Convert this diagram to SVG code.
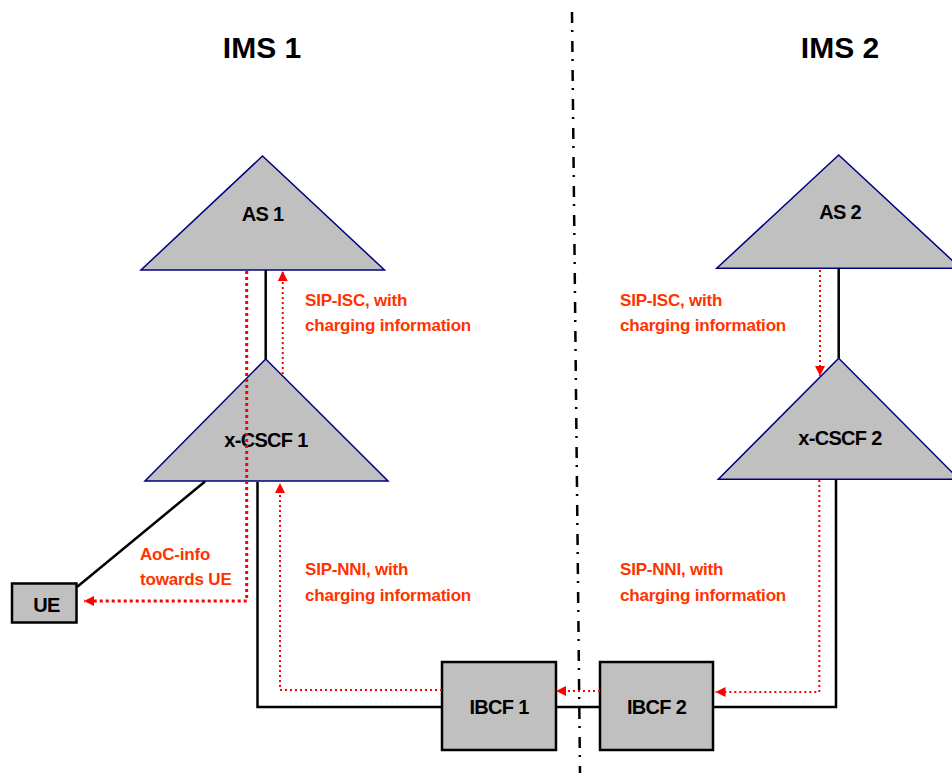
<svg xmlns="http://www.w3.org/2000/svg" width="952" height="773" viewBox="0 0 952 773">
<style>
  .tri { fill: #C0C0C0; stroke: #000080; stroke-width: 1.5; }
  .box { fill: #C0C0C0; stroke: #000000; stroke-width: 2.5; }
  .lbl { font-family: "Liberation Sans", Arial, sans-serif; font-weight: bold; font-size: 20px; letter-spacing: -0.7px; fill: #000; text-anchor: middle; }
  .title { font-family: "Liberation Sans", Arial, sans-serif; font-weight: bold; font-size: 30px; fill: #000; text-anchor: middle; }
  .red { font-family: "Liberation Sans", Arial, sans-serif; font-weight: bold; font-size: 17px; letter-spacing: -0.2px; fill: #FF3300; }
  .link { fill: none; stroke: #000; stroke-width: 2.5; }
  .msg { fill: none; stroke: #FF0000; stroke-width: 2; stroke-dasharray: 2 3; }
  .msg2 { fill: none; stroke: #FF0000; stroke-width: 3; stroke-dasharray: 3 3; }
  .divider { fill: none; stroke: #000; stroke-width: 2.5; stroke-dasharray: 11 7 2 9; }
</style>
<defs>
  <marker id="ah" markerUnits="userSpaceOnUse" markerWidth="11" markerHeight="11" refX="10" refY="5" orient="auto">
    <path d="M0,0 L10,5 L0,10 z" fill="#FF0000"/>
  </marker>
</defs>
<rect width="952" height="773" fill="#FFFFFF"/>

<g id="titles">
  <text class="title" x="262" y="58">IMS 1</text>
  <text class="title" x="840" y="58">IMS 2</text>
</g>

<line id="domain-border" class="divider" x1="572" y1="12" x2="580" y2="773"/>

<g id="as1">
  <polygon class="tri" points="262.5,156 141,270 384.5,270"/>
  <text class="lbl" x="262.5" y="221">AS 1</text>
</g>
<g id="xcscf1">
  <polygon class="tri" points="265.7,359 145,481 388,481"/>
  <text class="lbl" x="266" y="447">x-CSCF 1</text>
</g>
<g id="as2">
  <polygon class="tri" points="838.7,155 716.7,268.3 960.7,268.3"/>
  <text class="lbl" x="840" y="218.5">AS 2</text>
</g>
<g id="xcscf2">
  <polygon class="tri" points="838.7,358.3 718.3,479.3 959,479.3"/>
  <text class="lbl" x="840" y="445">x-CSCF 2</text>
</g>
<g id="ue">
  <rect class="box" x="12" y="583.5" width="64.5" height="39"/>
  <text class="lbl" x="46.5" y="611.5">UE</text>
</g>
<g id="ibcf1">
  <rect class="box" x="442" y="662" width="114" height="88"/>
  <text class="lbl" x="499" y="714">IBCF 1</text>
</g>
<g id="ibcf2">
  <rect class="box" x="600" y="662" width="113" height="88"/>
  <text class="lbl" x="656.5" y="714">IBCF 2</text>
</g>

<g id="connectors">
  <!-- black links -->
  <line class="link" x1="265.7" y1="270" x2="265.7" y2="359"/>
  <line class="link" x1="838.7" y1="268" x2="838.7" y2="358"/>
  <line class="link" x1="77" y1="587" x2="205" y2="481.5"/>
  <polyline class="link" points="257.5,482 257.5,707 442,707"/>
  <line class="link" x1="556" y1="707" x2="600" y2="707"/>
  <polyline class="link" points="713,707 836,707 836,480"/>
  <!-- red message flows -->
  <polyline class="msg2" points="246.7,271 246.7,601 84,601" marker-end="url(#ah)"/>
  <line class="msg" x1="282.7" y1="374" x2="282.7" y2="271" marker-end="url(#ah)"/>
  <line class="msg" x1="820" y1="270" x2="820" y2="376" marker-end="url(#ah)"/>
  <polyline class="msg" points="442,690 280,690 280,483" marker-end="url(#ah)"/>
  <line class="msg" x1="600" y1="691" x2="556" y2="691" marker-end="url(#ah)"/>
  <polyline class="msg" points="819.3,480 819.3,692 715.5,692" marker-end="url(#ah)"/>
  <!-- labels -->
  <text class="red" x="305" y="306">SIP-ISC, with</text>
  <text class="red" x="305" y="331">charging information</text>
  <text class="red" x="620" y="306">SIP-ISC, with</text>
  <text class="red" x="620" y="331">charging information</text>
  <text class="red" x="140" y="560">AoC-info</text>
  <text class="red" x="140" y="585">towards UE</text>
  <text class="red" x="305" y="575">SIP-NNI, with</text>
  <text class="red" x="305" y="601">charging information</text>
  <text class="red" x="620" y="575">SIP-NNI, with</text>
  <text class="red" x="620" y="601">charging information</text>
</g>
</svg>
